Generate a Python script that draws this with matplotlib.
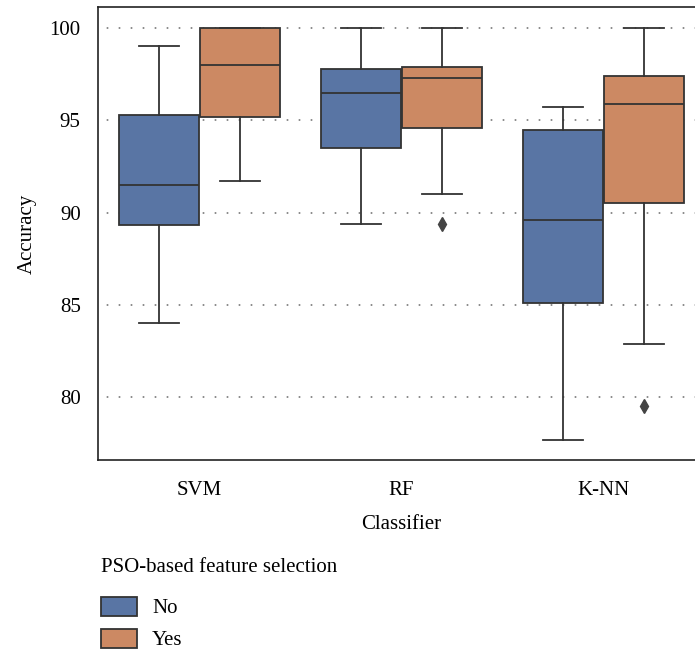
import matplotlib
matplotlib.use("Agg")
import matplotlib.pyplot as plt
from matplotlib.patches import Patch

plt.rcParams['font.family'] = ['Liberation Serif', 'DejaVu Serif']

classifiers = ["SVM", "RF", "K-NN"]
groups = ["No", "Yes"]
# (whislo, q1, median, q3, whishi)
stats_no = [
    (84.0, 89.3, 91.5, 95.3, 99.0),
    (89.4, 93.5, 96.5, 97.8, 100.0),
    (77.7, 85.1, 89.6, 94.5, 95.7),
]
stats_yes = [
    (91.7, 95.2, 98.0, 100.0, 100.0),
    (91.0, 94.6, 97.3, 97.9, 100.0),
    (82.9, 90.5, 95.9, 97.4, 100.0),
]
fliers_no = [[], [], []]
fliers_yes = [[], [89.4], [79.5]]
colors = ["#5975a4", "#cc8963"]
yticks = [80, 85, 90, 95, 100]

W, H = 695, 652
fig = plt.figure(figsize=(W / 100, H / 100), dpi=100)
ax = fig.add_axes([98 / W, 1 - 460 / H, (705 - 98) / W, (460 - 7) / H])

FS = 15
width = 0.8
line_c = "#333333"
for gi, (stats, fl) in enumerate([(stats_no, fliers_no), (stats_yes, fliers_yes)]):
    bxp = []
    for s, f in zip(stats, fl):
        bxp.append(dict(whislo=s[0], q1=s[1], med=s[2], q3=s[3], whishi=s[4], fliers=f))
    pos = [i - width / 4 + gi * width / 2 for i in range(len(classifiers))]
    ax.bxp(bxp, positions=pos, widths=width / 2 * 0.99, patch_artist=True,
           boxprops=dict(facecolor=colors[gi], edgecolor=line_c, linewidth=1.3),
           medianprops=dict(color=line_c, linewidth=1.3),
           whiskerprops=dict(color=line_c, linewidth=1.3),
           capprops=dict(color=line_c, linewidth=1.3),
           flierprops=dict(marker="d", markerfacecolor="#444444", markeredgecolor="#444444",
                           markersize=7),
           capwidths=width / 4 * 0.99, manage_ticks=False, zorder=3)

ax.set_xlim(-0.5, 2.5)
ax.set_ylim(76.59, 101.14)
ax.set_xticks(range(len(classifiers)))
ax.set_xticklabels(classifiers)
ax.set_yticks(yticks)
ax.set_yticklabels([str(v) for v in yticks])
ax.tick_params(axis="both", length=0, labelsize=FS)
ax.tick_params(axis="y", pad=12.5)
ax.tick_params(axis="x", pad=15)
ax.grid(axis="y", color="#777777", linestyle=(2, (1, 6.2)), linewidth=1.2, zorder=0)
for sp in ["left", "top", "bottom", "right"]:
    ax.spines[sp].set_color("#222222")
    ax.spines[sp].set_linewidth(1.2)
ax.set_xlabel("Classifier", fontsize=FS, labelpad=11)
ax.set_ylabel("Accuracy", fontsize=FS, labelpad=9)

handles = [Patch(facecolor=c, edgecolor=line_c, linewidth=1.3) for c in colors]
leg = fig.legend(handles, groups, title="PSO-based feature selection",
                 loc="upper left", bbox_to_anchor=(93 / W, 1 - 550 / H),
                 frameon=False, fontsize=FS, title_fontsize=FS,
                 handlelength=1.73, handleheight=1.02, labelspacing=0.5,
                 handletextpad=0.7, borderaxespad=0)
leg._legend_box.align = "left"
leg._legend_box.sep = 14

fig.savefig("out.png", dpi=100)
